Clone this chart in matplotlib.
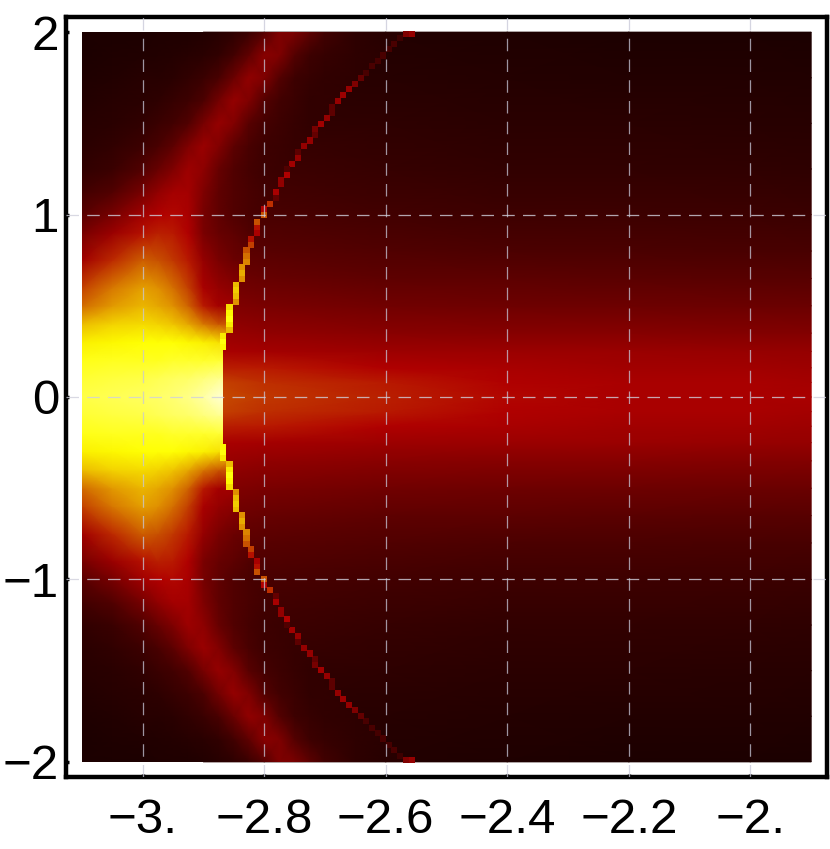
import numpy as np
import matplotlib
matplotlib.use("Agg")
import matplotlib.pyplot as plt
from matplotlib.colors import LinearSegmentedColormap, Normalize
from matplotlib.patches import Polygon

plt.rcParams['font.family'] = ['Liberation Sans', 'DejaVu Sans']

# Right of the arc (upper half, y >= 0)
right_x = [-2.9, -2.8, -2.6, -2.4, -2.2, -2.0, -1.9]
right_y = [0, .08, .16, .25, .35, .5, .65, .8, 1, 1.25, 1.5, 1.75, 2]
right_v = [
    [.50, .47, .44, .41, .38, .38, .38],
    [.49, .46, .43, .40, .38, .38, .37],
    [.44, .43, .40, .38, .36, .36, .35],
    [.39, .37, .35, .345, .34, .335, .33],
    [.35, .32, .30, .29, .29, .285, .28],
    [.29, .26, .235, .23, .225, .22, .215],
    [.24, .21, .185, .18, .175, .17, .165],
    [.19, .17, .15, .14, .135, .13, .125],
    [.15, .13, .11, .10, .10, .095, .09],
    [.12, .10, .08, .07, .07, .065, .06],
    [.09, .07, .06, .05, .05, .045, .04],
    [.06, .05, .04, .035, .03, .03, .025],
    [.05, .04, .03, .02, .015, .015, .01],
]

# Left of the arc (upper half, y >= 0)
left_x = [-3.1, -3.05, -3.0, -2.975, -2.95, -2.925, -2.9, -2.875, -2.85,
          -2.825, -2.8, -2.775, -2.75, -2.725, -2.7, -2.65, -2.6, -2.55]
left_y = [0, .1, .2, .3, .4, .5, .6, .75, .9, 1, 1.125, 1.25, 1.375, 1.5, 1.625, 1.75, 1.875, 2]
left_v = [
    [.82, .83, .84, .85, .86, .88, .91, .95, .97, .97, .97, .97, .97, .97, .97, .97, .97, .97],
    [.80, .81, .82, .83, .84, .85, .87, .89, .90, .90, .90, .90, .90, .90, .90, .90, .90, .90],
    [.77, .78, .78, .78, .79, .79, .79, .80, .80, .80, .80, .80, .80, .80, .80, .80, .80, .80],
    [.73, .74, .75, .75, .75, .74, .73, .71, .70, .70, .70, .70, .70, .70, .70, .70, .70, .70],
    [.66, .69, .70, .69, .67, .63, .56, .51, .50, .50, .50, .50, .50, .50, .50, .50, .50, .50],
    [.54, .61, .65, .63, .60, .53, .43, .37, .36, .36, .36, .36, .36, .36, .36, .36, .36, .36],
    [.48, .56, .62, .60, .55, .48, .38, .33, .30, .30, .30, .30, .30, .30, .30, .30, .30, .30],
    [.36, .45, .52, .50, .47, .43, .33, .26, .22, .20, .20, .20, .20, .20, .20, .20, .20, .20],
    [.25, .34, .42, .44, .43, .40, .26, .21, .18, .15, .14, .14, .14, .14, .14, .14, .14, .14],
    [.17, .25, .36, .40, .41, .38, .25, .19, .15, .13, .12, .11, .10, .10, .10, .10, .10, .10],
    [.11, .15, .25, .32, .37, .37, .27, .19, .15, .13, .11, .10, .09, .09, .09, .08, .08, .08],
    [.07, .09, .15, .21, .27, .35, .31, .21, .15, .12, .10, .09, .09, .08, .08, .07, .07, .07],
    [.05, .07, .10, .13, .18, .27, .34, .28, .18, .13, .10, .09, .08, .08, .07, .07, .06, .06],
    [.04, .05, .07, .09, .11, .15, .25, .33, .28, .17, .12, .10, .08, .07, .07, .06, .05, .05],
    [.03, .04, .05, .06, .08, .10, .14, .24, .33, .27, .16, .11, .09, .07, .07, .06, .05, .05],
    [.02, .03, .04, .04, .05, .07, .09, .13, .22, .32, .27, .16, .10, .08, .07, .06, .05, .05],
    [.015, .02, .025, .03, .035, .04, .05, .07, .11, .19, .30, .27, .16, .10, .08, .06, .05, .04],
    [.015, .015, .015, .02, .02, .02, .03, .04, .06, .09, .16, .27, .26, .18, .11, .06, .04, .04],
]

# The stepped cells of the thin arc, from its top end down toward the axis
arc_x = [-2.557, -2.566, -2.576, -2.586, -2.595, -2.605, -2.613, -2.622, -2.632, -2.641,
         -2.651, -2.660, -2.670, -2.679, -2.688, -2.688, -2.697, -2.707, -2.716, -2.716,
         -2.725, -2.735, -2.745, -2.745, -2.754, -2.763, -2.763, -2.772, -2.772, -2.781,
         -2.781, -2.791, -2.801, -2.801,
         -2.811, -2.811, -2.811, -2.821, -2.821, -2.829, -2.829, -2.829, -2.837, -2.837,
         -2.837, -2.847, -2.847, -2.847, -2.847, -2.857, -2.857, -2.857, -2.857, -2.857,
         -2.867, -2.867, -2.867]
arc_y = [1.99, 1.99, 1.967, 1.936, 1.905, 1.872, 1.841, 1.812, 1.777, 1.748,
         1.717, 1.686, 1.655, 1.624, 1.589, 1.558, 1.529, 1.499, 1.468, 1.437,
         1.406, 1.375, 1.342, 1.311, 1.278, 1.247, 1.219, 1.187, 1.168, 1.123,
         1.09, 1.059, 1.03, 1.0,
         .96, .928, .897, .866, .835, .804, .772, .741, .71, .679,
         .647, .616, .585, .553, .522, .491, .46, .428, .397, .366,
         .335, .303, .272]
arc_v = [.33, .27, .10, .13, .12, .13, .12, .13, .13, .20,
         .27, .33, .35, .33, .18, .18, .33, .36, .25, .20,
         .33, .33, .18, .33, .36, .15, .40, .32, .32, .38,
         .20, .46, .40, .50,
         .50, .42, .38, .42, .48, .50, .55, .58, .60, .64,
         .60, .66, .68, .66, .60, .70, .74, .76, .72, .66,
         .72, .76, .74]

x_ticks = [-3.0, -2.8, -2.6, -2.4, -2.2, -2.0]
x_labels = ['\u22123.', '\u22122.8', '\u22122.6', '\u22122.4', '\u22122.2', '\u22122.']
y_ticks = [-2, -1, 0, 1, 2]
y_labels = ['\u22122', '\u22121', '0', '1', '2']

cmap = LinearSegmentedColormap.from_list('heat', [
    (0.0, '#180000'), (0.4, '#b00000'), (0.5, '#c85000'),
    (0.6, '#e09000'), (0.75, '#ffff00'), (1.0, '#ffffff')])
norm = Normalize(0, 1)

W, H = 830, 849
fig = plt.figure(figsize=(W / 100, H / 100), dpi=100, facecolor='white')
ax = fig.add_axes([66 / W, (H - 777) / H, 761 / W, 760 / H])
ax.set_xlim(-3.126, -1.874)
ax.set_ylim(-2.083, 2.083)


def full(ys, vs):
    ys = np.asarray(ys, float)
    vs = np.asarray(vs, float)
    return np.r_[-ys[:0:-1], ys], np.vstack([vs[:0:-1], vs])


ry, rv = full(right_y, right_v)
ax.pcolormesh(right_x, ry, rv, shading='gouraud', cmap=cmap, norm=norm, zorder=1)
ly, lv = full(left_y, left_v)
mesh = ax.pcolormesh(left_x, ly, lv, shading='gouraud', cmap=cmap, norm=norm, zorder=2)

ax_ = np.asarray(arc_x)
ay_ = np.asarray(arc_y)
av_ = np.asarray(arc_v)
edge_x = np.r_[ax_[0], ax_, ax_[::-1], ax_[0]]
edge_y = np.r_[2, ay_, -ay_[::-1], -2]
poly = np.column_stack([np.r_[left_x[0], edge_x, left_x[0]], np.r_[2, edge_y, -2]])
mesh.set_clip_path(Polygon(poly, closed=True, transform=ax.transData))

for sign in (1, -1):
    ax.scatter(ax_, sign * ay_, c=av_, cmap=cmap, norm=norm, marker='s', s=19, linewidths=0, zorder=3)

for x in x_ticks:
    ax.axvline(x, color='#c8c8d8', lw=0.9, dashes=(10, 6.6), alpha=0.75, zorder=4)
for y in y_ticks[1:-1]:
    ax.axhline(y, color='#d0d0dc', lw=0.9, dashes=(10, 6.6), alpha=0.8, zorder=4)

ax.set_xticks(x_ticks, x_labels)
ax.set_yticks(y_ticks, y_labels)
ax.tick_params(direction='in', length=2.5, width=2.5, labelsize=35.5, pad=15, color='black')
ax.tick_params(axis='y', pad=5)
for s in ax.spines.values():
    s.set_linewidth(3.2)
    s.set_color('black')

fig.savefig('out.png', dpi=100, facecolor='white')
